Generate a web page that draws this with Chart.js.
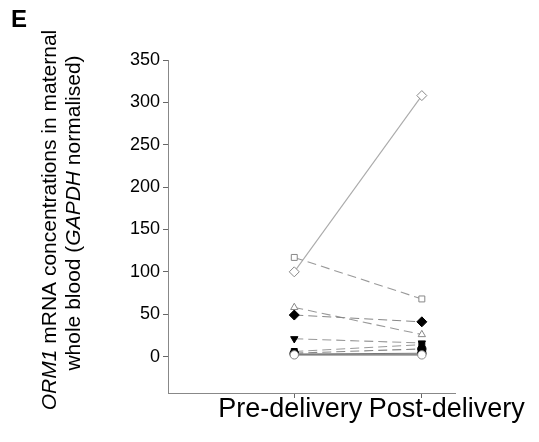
<!DOCTYPE html>
<html>
<head>
<meta charset="utf-8">
<script src="https://cdn.jsdelivr.net/npm/chart.js@4/dist/chart.umd.min.js"></script>
<style>
html,body{margin:0;padding:0;background:#fff;}
#wrap{position:relative;width:539px;height:442px;}
</style>
</head>
<body>
<div id="wrap"><canvas id="c" width="539" height="442"></canvas></div>
<script>
const categories = ['Pre-delivery', 'Post-delivery'];
const yTicks = [0, 50, 100, 150, 200, 250, 300, 350];
const s1 = [100, 308];
const s2 = [117, 68];
const s3 = [58, 26];
const s4 = [49, 41];
const s5 = [21, 16];
const s6 = [6, 14];
const s7 = [4, 9];
const s8 = [3, 4];
const s9 = [2, 2];
const panelLabel = 'E';
const titleLine1 = [['ORM1', true], [' mRNA concentrations in maternal', false]];
const titleLine2 = [['whole blood (', false], ['GAPDH', true], [' normalised)', false]];

function mk(vals, style, fill, dashed, lineColor, rot) {
  return {
    data: vals.map((v, i) => ({x: i, y: v})),
    showLine: true,
    borderColor: lineColor,
    borderWidth: 1.1,
    borderDash: dashed ? [9, 5] : [],
    pointStyle: style,
    pointRadius: style === 'rectRot' ? 5 : 4.2,
    pointRotation: rot || 0,
    pointBorderWidth: 1,
    pointBorderColor: fill ? '#000' : '#888',
    pointBackgroundColor: fill ? '#000' : '#fff',
    fill: false
  };
}

const datasets = [
  mk(s9, 'circle', false, false, '#666'),
  mk(s8, 'circle', true, false, '#777'),
  mk(s7, 'circle', true, true, '#888'),
  mk(s6, 'rect', true, true, '#999'),
  mk(s5, 'triangle', true, true, '#999', 180),
  mk(s4, 'rectRot', true, true, '#888'),
  mk(s3, 'triangle', false, true, '#999'),
  mk(s2, 'rect', false, true, '#999'),
  mk(s1, 'rectRot', false, false, '#aaa')
];

const overlay = {
  id: 'overlay',
  afterDraw(chart) {
    const ctx = chart.ctx;
    ctx.save();
    ctx.fillStyle = '#000';
    ctx.font = 'bold 24px "Liberation Sans", Arial, sans-serif';
    ctx.textBaseline = 'alphabetic';
    ctx.fillText(panelLabel, 11, 27);
    function drawLine(parts, cx, cy, size) {
      let total = 0;
      const fonts = parts.map(p => (p[1] ? 'italic ' : '') + size + 'px "Liberation Sans", Arial, sans-serif');
      parts.forEach((p, i) => { ctx.font = fonts[i]; total += ctx.measureText(p[0]).width; });
      ctx.save();
      ctx.translate(cx, cy);
      ctx.rotate(-Math.PI / 2);
      let x = -total / 2;
      ctx.textBaseline = 'middle';
      parts.forEach((p, i) => { ctx.font = fonts[i]; ctx.fillText(p[0], x, 0); x += ctx.measureText(p[0]).width; });
      ctx.restore();
    }
    drawLine(titleLine1, 50, 220, 21);
    drawLine(titleLine2, 74, 213, 21);
    const xs = chart.scales.x;
    ctx.font = '27px "Liberation Sans", Arial, sans-serif';
    ctx.textAlign = 'center';
    ctx.textBaseline = 'middle';
    ctx.fillText(categories[0], xs.getPixelForValue(0) - 4, 410);
    ctx.fillText(categories[1], xs.getPixelForValue(1) + 25, 410);
    ctx.restore();
  }
};

new Chart(document.getElementById('c'), {
  type: 'scatter',
  data: {datasets},
  options: {
    responsive: false,
    animation: false,
    devicePixelRatio: 1,
    layout: {padding: {top: 60, right: 84, left: 0, bottom: 0}},
    plugins: {legend: {display: false}, tooltip: {enabled: false}},
    scales: {
      x: {
        type: 'linear', min: -0.99, max: 1.26,
        afterBuildTicks: s => { s.ticks = categories.map((c, i) => ({value: i})); },
        afterFit: s => { s.height = 49; },
        grid: {display: true, drawOnChartArea: false, drawTicks: true, tickLength: 5, color: '#666'},
        border: {display: true, color: '#888', width: 1},
        ticks: {display: true, color: 'rgba(0,0,0,0)', font: {size: 1}, callback: (v) => categories[v] || ''}
      },
      y: {
        type: 'linear', min: -43, max: 350,
        afterBuildTicks: s => { s.ticks = yTicks.map(v => ({value: v})); },
        afterFit: s => { s.width = 168; },
        grid: {display: true, drawOnChartArea: false, drawTicks: true, tickLength: 5, color: '#666'},
        border: {display: true, color: '#888', width: 1},
        ticks: {color: '#000', padding: 3, font: {size: 18, family: '"Liberation Sans", Arial, sans-serif'}}
      }
    }
  },
  plugins: [overlay]
});
</script>
</body>
</html>
